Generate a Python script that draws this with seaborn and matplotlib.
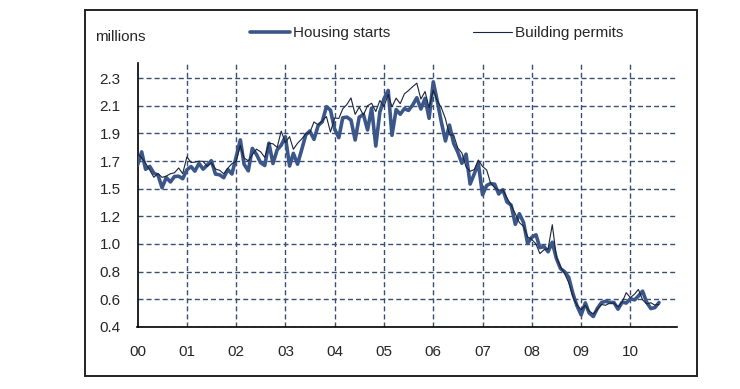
import matplotlib
matplotlib.use("Agg")
import matplotlib.pyplot as plt
from matplotlib.lines import Line2D
from matplotlib.patches import Rectangle
import numpy as np
import pandas as pd
import seaborn as sns

# Monthly data, Jan 2000 - Aug 2010, millions of units (SAAR)
housing_starts = [
    1.636, 1.737, 1.604, 1.626, 1.575, 1.559, 1.463, 1.541, 1.507, 1.549, 1.551, 1.532,  # 2000
    1.600, 1.625, 1.590, 1.649, 1.605, 1.636, 1.670, 1.567, 1.562, 1.540, 1.602, 1.568,  # 2001
    1.698, 1.829, 1.642, 1.592, 1.764, 1.717, 1.655, 1.633, 1.804, 1.648, 1.753, 1.788,  # 2002
    1.853, 1.629, 1.726, 1.643, 1.751, 1.867, 1.897, 1.833, 1.939, 1.967, 2.083, 2.057,  # 2003
    1.911, 1.846, 1.998, 2.003, 1.981, 1.828, 2.002, 2.024, 1.905, 2.072, 1.782, 2.042,  # 2004
    2.144, 2.207, 1.864, 2.061, 2.025, 2.068, 2.054, 2.095, 2.151, 2.065, 2.147, 1.994,  # 2005
    2.273, 2.119, 1.969, 1.821, 1.942, 1.802, 1.737, 1.650, 1.720, 1.491, 1.570, 1.649,  # 2006
    1.409, 1.480, 1.495, 1.490, 1.415, 1.448, 1.354, 1.330, 1.183, 1.264, 1.197, 1.037,  # 2007
    1.084, 1.103, 1.005, 1.013, 0.973, 1.046, 0.923, 0.844, 0.820, 0.777, 0.652, 0.560,  # 2008
    0.490, 0.582, 0.505, 0.478, 0.540, 0.585, 0.594, 0.586, 0.585, 0.534, 0.588, 0.581,  # 2009
    0.614, 0.605, 0.634, 0.672, 0.588, 0.539, 0.546, 0.585,                              # 2010
]
building_permits = [
    1.727, 1.692, 1.651, 1.597, 1.543, 1.572, 1.542, 1.552, 1.570, 1.577, 1.614, 1.571,  # 2000
    1.699, 1.656, 1.659, 1.666, 1.665, 1.626, 1.654, 1.606, 1.596, 1.570, 1.613, 1.647,  # 2001
    1.665, 1.787, 1.691, 1.669, 1.716, 1.758, 1.738, 1.695, 1.803, 1.799, 1.771, 1.896,  # 2002
    1.808, 1.854, 1.757, 1.803, 1.835, 1.875, 1.885, 1.966, 1.944, 1.974, 2.008, 1.889,  # 2003
    1.996, 1.993, 2.066, 2.100, 2.150, 2.024, 2.080, 2.019, 2.090, 2.109, 2.046, 2.130,  # 2004
    2.085, 2.177, 2.082, 2.148, 2.106, 2.181, 2.206, 2.236, 2.263, 2.141, 2.199, 2.075,  # 2005
    2.210, 2.125, 2.077, 1.991, 1.867, 1.866, 1.768, 1.729, 1.621, 1.589, 1.602, 1.675,  # 2006
    1.626, 1.598, 1.500, 1.462, 1.446, 1.445, 1.386, 1.330, 1.264, 1.196, 1.168, 1.087,  # 2007
    1.067, 1.033, 0.959, 0.989, 0.996, 1.180, 0.937, 0.857, 0.805, 0.736, 0.630, 0.564,  # 2008
    0.530, 0.564, 0.520, 0.498, 0.532, 0.570, 0.564, 0.580, 0.580, 0.552, 0.589, 0.660,  # 2009
    0.622, 0.650, 0.685, 0.606, 0.574, 0.583, 0.565, 0.571,                              # 2010
]
year_labels = ["00", "01", "02", "03", "04", "05", "06", "07", "08", "09", "10"]
y_ticks = [0.4, 0.611, 0.822, 1.033, 1.244, 1.456, 1.667, 1.878, 2.089, 2.3]
y_labels = ["0.4", "0.6", "0.8", "1.0", "1.2", "1.5", "1.7", "1.9", "2.1", "2.3"]

df = pd.DataFrame({
    "date": pd.date_range("2000-01-01", periods=len(housing_starts), freq="MS"),
    "starts": housing_starts,
    "permits": building_permits,
})

sns.set_style("white")
plt.rcParams["font.family"] = ["Liberation Sans", "DejaVu Sans"]

W, H = 740, 389
fig = plt.figure(figsize=(W / 100, H / 100), dpi=100)
ax = fig.add_axes([137.5 / W, 1 - 326.7 / H, (676.7 - 137.5) / W, (326.7 - 63) / H])

starts_col = "#3b5789"
permits_col = "#18243a"
grid_col = "#3a4e74"

sns.lineplot(data=df, x="date", y="starts", ax=ax, color=starts_col, lw=2.6, zorder=3)
sns.lineplot(data=df, x="date", y="permits", ax=ax, color=permits_col, lw=0.8, zorder=4)

ax.set_xlim(pd.Timestamp("2000-01-01"), pd.Timestamp("2010-12-10"))
ax.set_ylim(0.4, 2.417)

year_ticks = pd.date_range("2000-01-01", "2010-01-01", freq="YS")
ax.set_xticks(year_ticks)
ax.set_xticklabels(year_labels)
ax.set_yticks(y_ticks)
ax.set_yticklabels(y_labels)
ax.set_xlabel("")
ax.set_ylabel("")

ax.grid(True, color=grid_col, lw=1.0, linestyle=(0, (3.6, 2.2)))
ax.tick_params(axis="x", direction="inout", length=9, width=1.1, color="black",
               labelsize=11, pad=9)
ax.tick_params(axis="y", direction="out", length=4, width=1.1, color="black",
               labelsize=11, pad=8)
for s in ["top", "right"]:
    ax.spines[s].set_visible(False)
for s in ["left", "bottom"]:
    ax.spines[s].set_color("black")
    ax.spines[s].set_linewidth(1.2)

fig.text(95 / W, 1 - 37 / H, "millions", fontsize=11, va="center", ha="left")

handles = [Line2D([], [], color=starts_col, lw=2.6), Line2D([], [], color=permits_col, lw=0.8)]
fig.legend(handles, ["Housing starts", "Building permits"], loc="center left",
           bbox_to_anchor=(250 / W, 1 - 33 / H), ncol=2, frameon=False, fontsize=11,
           handlelength=2.6, handletextpad=0.2, columnspacing=5.4,
           borderpad=0, borderaxespad=0)

fig.add_artist(Rectangle((85 / W, 1 - 376 / H), (697 - 85) / W, (376 - 10) / H,
                         transform=fig.transFigure, fill=False, edgecolor="#222222", lw=1.4))

fig.savefig("out.png", dpi=100)
